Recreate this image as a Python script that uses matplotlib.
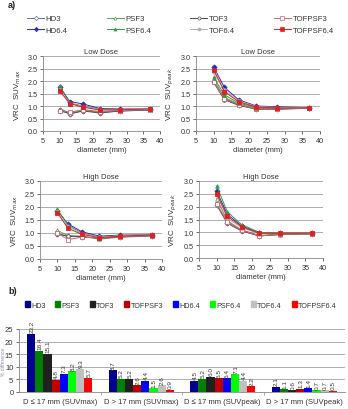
import numpy as np
import matplotlib
matplotlib.use("Agg")
from matplotlib import pyplot as plt
from matplotlib.lines import Line2D
from matplotlib.patches import Patch

plt.rcParams["font.family"] = ["Liberation Sans", "DejaVu Sans"]

# ---- data -------------------------------------------------------------
series = ["HD3", "PSF3", "TOF3", "TOFPSF3", "HD6.4", "PSF6.4", "TOF6.4", "TOFPSF6.4"]
diameter = [10, 13, 17, 22, 28, 37]

low_max = {
    "HD3":       [0.80, 0.70, 0.82, 0.74, 0.80, 0.84],
    "PSF3":      [0.90, 0.72, 0.85, 0.76, 0.82, 0.85],
    "TOF3":      [0.85, 0.68, 0.80, 0.72, 0.80, 0.84],
    "TOFPSF3":   [0.82, 0.75, 0.85, 0.78, 0.82, 0.86],
    "HD6.4":     [1.75, 1.18, 1.08, 0.90, 0.88, 0.88],
    "PSF6.4":    [1.82, 1.12, 1.00, 0.88, 0.86, 0.87],
    "TOF6.4":    [1.65, 1.10, 0.98, 0.86, 0.85, 0.86],
    "TOFPSF6.4": [1.60, 1.10, 0.95, 0.84, 0.85, 0.88],
}
low_peak = {
    "HD3":       [1.95, 1.28, 1.05, 0.88, 0.88, 0.92],
    "PSF3":      [2.05, 1.35, 1.08, 0.90, 0.89, 0.92],
    "TOF3":      [1.95, 1.25, 1.03, 0.87, 0.87, 0.91],
    "TOFPSF3":   [1.95, 1.30, 1.06, 0.88, 0.88, 0.92],
    "HD6.4":     [2.55, 1.75, 1.25, 1.00, 0.97, 0.93],
    "PSF6.4":    [2.15, 1.45, 1.12, 0.94, 0.92, 0.93],
    "TOF6.4":    [2.35, 1.65, 1.20, 0.98, 0.94, 0.93],
    "TOFPSF6.4": [2.45, 1.58, 1.17, 0.96, 0.92, 0.93],
}
high_max = {
    "HD3":       [0.98, 0.88, 0.85, 0.80, 0.85, 0.90],
    "PSF3":      [1.10, 0.90, 0.88, 0.76, 0.84, 0.88],
    "TOF3":      [0.95, 0.88, 0.86, 0.80, 0.85, 0.90],
    "TOFPSF3":   [1.00, 0.75, 0.84, 0.82, 0.86, 0.90],
    "HD6.4":     [1.85, 1.35, 1.05, 0.88, 0.92, 0.93],
    "PSF6.4":    [1.92, 1.30, 1.00, 0.85, 0.90, 0.92],
    "TOF6.4":    [1.80, 1.25, 0.98, 0.84, 0.89, 0.92],
    "TOFPSF6.4": [1.78, 1.18, 0.95, 0.82, 0.88, 0.92],
}
high_peak = {
    "HD3":       [2.05, 1.35, 1.05, 0.86, 0.92, 0.94],
    "PSF3":      [2.30, 1.45, 1.10, 0.88, 0.91, 0.94],
    "TOF3":      [2.10, 1.38, 1.07, 0.86, 0.92, 0.95],
    "TOFPSF3":   [2.10, 1.40, 1.08, 0.87, 0.92, 0.95],
    "HD6.4":     [2.60, 1.70, 1.25, 0.98, 0.97, 0.97],
    "PSF6.4":    [2.80, 1.80, 1.30, 1.00, 0.98, 0.98],
    "TOF6.4":    [2.45, 1.55, 1.18, 0.95, 0.96, 0.97],
    "TOFPSF6.4": [2.50, 1.62, 1.22, 0.96, 0.96, 0.97],
}

groups = ["D \u2264 17 mm (SUVmax)", "D > 17 mm (SUVmax)",
          "D \u2264 17 mm (SUVpeak)", "D > 17 mm (SUVpeak)"]
bar_values = {
    "HD3":       [23.2, 8.7, 4.5, 2.1],
    "PSF3":      [16.4, 5.2, 5.2, 1.1],
    "TOF3":      [15.1, 5.2, 6.0, 0.6],
    "TOFPSF3":   [4.8, 2.6, 5.5, 1.3],
    "HD6.4":     [7.3, 4.4, 5.4, 1.4],
    "PSF6.4":    [8.2, 1.5, 7.1, 0.7],
    "TOF6.4":    [9.3, 2.6, 4.4, 0.7],
    "TOFPSF6.4": [5.7, 0.9, 2.2, 0.5],
}

# ---- styles -----------------------------------------------------------
line_color = {"HD3": "#6868a8", "PSF3": "#58a858", "TOF3": "#505050", "TOFPSF3": "#d86070",
              "HD6.4": "#2828c0", "PSF6.4": "#28a048", "TOF6.4": "#b0b0b0", "TOFPSF6.4": "#e02020"}
marker = {"HD3": "D", "PSF3": "^", "TOF3": "o", "TOFPSF3": "s",
          "HD6.4": "D", "PSF6.4": "^", "TOF6.4": "o", "TOFPSF6.4": "s"}
filled = {s: s.endswith("6.4") for s in series}
bar_color = {"HD3": "#000090", "PSF3": "#008000", "TOF3": "#202020", "TOFPSF3": "#c00000",
             "HD6.4": "#0000ff", "PSF6.4": "#00ff00", "TOF6.4": "#c0c0c0", "TOFPSF6.4": "#ff0000"}

W, H = 348, 410
fig = plt.figure(figsize=(W / 100, H / 100), dpi=100)
txt = "#333333"


def px_axes(x0, x1, top, bottom):
    return fig.add_axes([x0 / W, 1 - bottom / H, (x1 - x0) / W, (bottom - top) / H])


def style_line_ax(ax, title, ylab):
    ax.set_xlim(5, 40)
    ax.set_ylim(0, 3.0)
    ax.set_xticks(range(5, 41, 5))
    ax.set_yticks(np.arange(0, 3.01, 0.5))
    ax.yaxis.set_major_formatter(matplotlib.ticker.FormatStrFormatter("%.1f"))
    ax.grid(axis="y", color="#a0a0a0", linewidth=0.6)
    ax.set_axisbelow(True)
    for s in ["top", "right"]:
        ax.spines[s].set_visible(False)
    for s in ["left", "bottom"]:
        ax.spines[s].set_color("#888888")
        ax.spines[s].set_linewidth(0.6)
    ax.tick_params(labelsize=5.2, colors=txt, length=2, width=0.5, pad=2)
    ax.set_title(title, fontsize=5.5, color=txt, pad=2)
    ax.set_xlabel("diameter (mm)", fontsize=5.5, color=txt, labelpad=2)
    ax.set_ylabel(ylab, fontsize=5.8, color=txt, labelpad=3)


def draw_lines(ax, data):
    for s in series:
        c = line_color[s]
        ax.plot(diameter, data[s], color=c, linewidth=0.7, marker=marker[s], markersize=2.6,
                markerfacecolor=c if filled[s] else "white", markeredgecolor=c,
                markeredgewidth=0.6)


panels = [
    ((43, 160, 57, 132), low_max, "Low Dose", "VRC  SUV$_{max}$"),
    ((196, 320, 57, 132), low_peak, "Low Dose", "VRC  SUV$_{peak}$"),
    ((40, 162, 182, 260), high_max, "High Dose", "VRC  SUV$_{max}$"),
    ((199, 323, 182, 259), high_peak, "High Dose", "VRC  SUV$_{peak}$"),
]
for box, data, title, ylab in panels:
    ax = px_axes(*box)
    draw_lines(ax, data)
    style_line_ax(ax, title, ylab)

# legend a)
handles = []
order = ["HD3", "HD6.4", "PSF3", "PSF6.4", "TOF3", "TOF6.4", "TOFPSF3", "TOFPSF6.4"]
for s in order:
    c = line_color[s]
    handles.append(Line2D([], [], color=c, linewidth=0.7, marker=marker[s], markersize=2.2,
                          markerfacecolor=c if filled[s] else "white", markeredgecolor=c,
                          markeredgewidth=0.5, label=s))
fig.legend(handles=handles, loc="upper left", bbox_to_anchor=(20 / W, 1 - 9 / H), ncol=4,
           frameon=False, fontsize=5.6, handlelength=2.2, handletextpad=0.2,
           columnspacing=5.0, labelspacing=0.55, labelcolor=txt)

fig.text(8 / W, 1 - 6 / H, "a)", fontsize=6.5, fontweight="bold", va="center", color="#222222")
fig.text(8 / W, 1 - 292 / H, "b)", fontsize=6.5, fontweight="bold", va="center", color="#222222")

# ---- bar chart b) ------------------------------------------------------
axb = px_axes(19, 345, 330, 393)
x = np.arange(len(groups))
bw = 0.1
for i, s in enumerate(series):
    pos = x + (i - 3.5) * bw
    axb.bar(pos, bar_values[s], width=bw, color=bar_color[s], label=s, zorder=3)
    for p, v in zip(pos, bar_values[s]):
        axb.text(p + 0.01, v + 0.6, f"{v:.1f}", rotation=90, ha="center", va="bottom",
                 fontsize=4.6, color=txt)
axb.set_xlim(-0.5, len(groups) - 0.5)
axb.set_ylim(0, 25)
axb.set_yticks(range(0, 26, 5))
axb.set_xticks(x)
axb.set_xticklabels(groups)
axb.set_xticks(np.arange(0.5, len(groups) - 0.5, 1), minor=True)
axb.tick_params(axis="x", which="major", length=0, labelsize=5.5, colors=txt, pad=4)
axb.tick_params(axis="x", which="minor", length=2, width=0.5, color="#888888")
axb.tick_params(axis="y", labelsize=5.5, colors=txt, length=2, width=0.5, pad=2)
axb.grid(axis="y", color="#a0a0a0", linewidth=0.6, zorder=0)
for s in ["top", "right"]:
    axb.spines[s].set_visible(False)
for s in ["left", "bottom"]:
    axb.spines[s].set_color("#888888")
    axb.spines[s].set_linewidth(0.6)
axb.set_ylabel("% difference", fontsize=3.6, color="#9090b0")
axb.yaxis.set_label_coords(-13 / 326, 0.5)

bar_handles = [Patch(color=bar_color[s], label=s) for s in series]
fig.legend(handles=bar_handles, loc="center left", bbox_to_anchor=(18 / W, 1 - 306 / H),
           ncol=8, frameon=False, fontsize=5.2, handlelength=0.7, handleheight=0.7,
           handletextpad=0.2, columnspacing=1.35, labelcolor=txt)

fig.savefig("out.png", dpi=100)
